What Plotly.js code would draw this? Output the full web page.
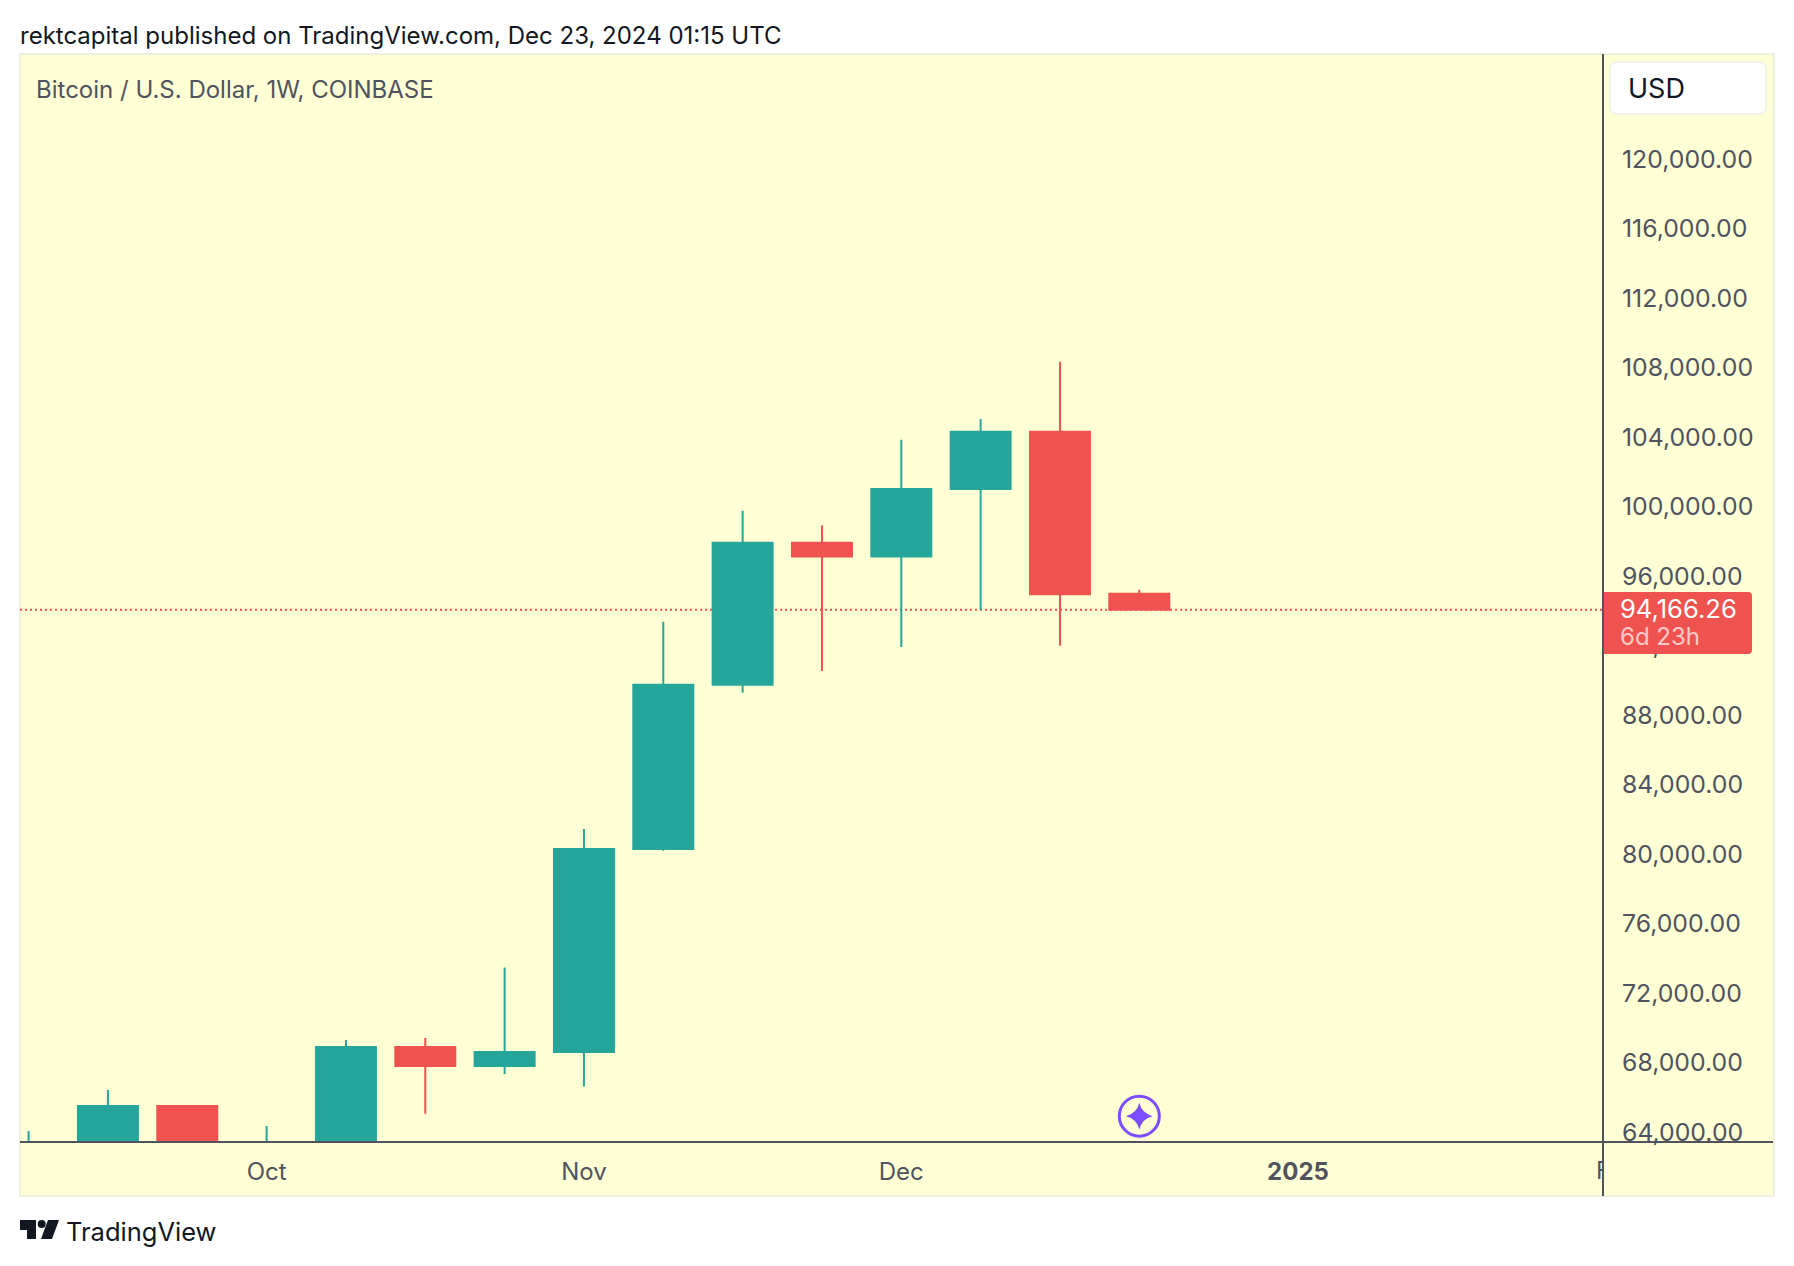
<!DOCTYPE html>
<html>
<head>
<meta charset="utf-8">
<script src="https://cdn.plot.ly/plotly-3.0.1.min.js"></script>
<style>html,body{margin:0;padding:0;background:#fff}#chart{width:1794px;height:1266px}</style>
</head>
<body>
<div id="chart"></div>
<script>
// ---- data ----
const weeks = ['2024-09-16','2024-09-23','2024-09-30','2024-10-07','2024-10-14','2024-10-21','2024-10-28','2024-11-04','2024-11-11','2024-11-18','2024-11-25','2024-12-02','2024-12-09','2024-12-16','2024-12-23'];
const opens = [60000,63350,65611,62100,62870,69007,67914,68720,80403,89860,98032,97242,101130,104425,95100];
const highs = [64172,66532,65650,64460,69410,69525,73583,81560,93485,99878,99021,103960,105150,108445,95330];
const lows  = [57500,62700,59800,58900,62000,65168,67455,66730,80305,89400,90652,92036,94145,92102,94166];
const closes= [63350,65611,62100,62870,69007,67914,68720,80403,89860,98032,97242,101130,104425,95067,94166.26];
const lastPrice = 94166.26;
const xTickVals = ['2024-10-07','2024-11-04','2024-12-02','2025-01-06'];
const xTickText = ['Oct','Nov','Dec','<b>2025</b>'];
const yTickVals = [64000,68000,72000,76000,80000,84000,88000,92000,96000,100000,104000,108000,112000,116000,120000];
const eventX = ['2024-12-23'];
const eventY = [65028];

// ---- layout helpers: page pixels to paper fractions ----
const L=20,R=1603,T=54,B=1142,PR=1774,PB=1196;
const px=x=>(x-L)/(R-L), py=y=>(B-y)/(B-T);
const UP='#26a69a',DOWN='#ef5350',BG='#ffffd6',AX='#50535e',EDGE='#f0f0e0',PURPLE='#7b4dff',INK='#131722';
const FONT='Inter, "Liberation Sans", sans-serif';

function pxPath(cmds){
  return cmds.map(c=>c.length===1?c[0]:c[0]+' '+px(c[1])+' '+py(c[2])).join(' ');
}
function roundBox(x0,y0,x1,y1,rl,rr){
  const X=px,Y=py;
  return `M ${X(x0+rl)} ${Y(y0)} L ${X(x1-rr)} ${Y(y0)} Q ${X(x1)} ${Y(y0)} ${X(x1)} ${Y(y0+rr)} L ${X(x1)} ${Y(y1-rr)} Q ${X(x1)} ${Y(y1)} ${X(x1-rr)} ${Y(y1)} L ${X(x0+rl)} ${Y(y1)} Q ${X(x0)} ${Y(y1)} ${X(x0)} ${Y(y1-rl)} L ${X(x0)} ${Y(y0+rl)} Q ${X(x0)} ${Y(y0)} ${X(x0+rl)} ${Y(y0)} Z`;
}
const paperShape=o=>Object.assign({xref:'paper',yref:'paper'},o);

const shapes=[
  paperShape({type:'rect',layer:'below',x0:px(L),x1:px(PR),y0:py(T),y1:py(PB),fillcolor:BG,line:{color:EDGE,width:2}}),
  {type:'line',layer:'below',xref:'paper',yref:'y',x0:0,x1:1,y0:lastPrice,y1:lastPrice,line:{color:DOWN,width:2,dash:'2px,3px'}},
  paperShape({type:'line',layer:'above',x0:px(L),x1:px(PR-1),y0:py(B),y1:py(B),line:{color:AX,width:2}}),
  paperShape({type:'line',layer:'above',x0:px(R),x1:px(R),y0:py(T),y1:py(PB),line:{color:AX,width:2}}),
  paperShape({type:'line',layer:'above',x0:px(R),x1:px(PR-1),y0:py(B),y1:py(B),line:{color:AX,width:2}}),
  paperShape({type:'path',layer:'above',path:roundBox(1604,592,1752,654,0.01,4),fillcolor:DOWN,line:{width:0}}),
  paperShape({type:'path',layer:'above',path:roundBox(1610,62,1766,114,7,7),fillcolor:'#ffffff',line:{color:'#f0f0e4',width:1.5}}),
  // TradingView logo
  paperShape({type:'path',path:pxPath([['M',20,1220],['L',36,1220],['L',36,1239],['L',27,1239],['L',27,1230],['L',20,1230],['Z']]),fillcolor:INK,line:{width:0}}),
  paperShape({type:'circle',x0:px(37.7),x1:px(45.7),y0:py(1220),y1:py(1228),fillcolor:INK,line:{width:0}}),
  paperShape({type:'path',path:pxPath([['M',48,1220],['L',59,1220],['L',52,1239],['L',41,1239],['Z']]),fillcolor:INK,line:{width:0}})
];

function text(t,x,y,size,color,extra){
  return Object.assign({xref:'paper',yref:'paper',x:px(x),y:py(y),xanchor:'left',yanchor:'middle',showarrow:false,text:t,font:{family:FONT,size:size,color:color},borderpad:0,borderwidth:0},extra||{});
}
const annotations=[
  text('rektcapital published on TradingView.com, Dec 23, 2024 01:15 UTC',20,36,24,INK),
  text('Bitcoin / U.S. Dollar, 1W, COINBASE',36,89,24,AX),
  text('USD',1628,88,27,INK),
  // red cover for the price tag: hides the 92,000 tick label beneath it
  text('\u00a0',1604,592,10,DOWN,{yanchor:'top',width:144,height:62,bgcolor:DOWN}),
  text('94,166.26',1620,608,25.6,'#ffffff'),
  text('6d 23h',1620,636,24,'rgba(255,255,255,0.7)'),
  text('TradingView',66,1231,25.5,INK),
  text('Feb',1596,1170,24,AX,{width:7,align:'left'})
];

const traces=[
  {type:'candlestick',x:weeks,open:opens,high:highs,low:lows,close:closes,whiskerwidth:0,
   increasing:{line:{color:UP,width:2},fillcolor:UP},decreasing:{line:{color:DOWN,width:2},fillcolor:DOWN},hoverinfo:'skip',showlegend:false},
  {type:'scatter',mode:'markers',x:eventX,y:eventY,marker:{symbol:'circle-open',size:40,color:PURPLE,line:{color:PURPLE,width:3}},hoverinfo:'skip',showlegend:false},
  {type:'scatter',mode:'markers',x:eventX,y:eventY,marker:{symbol:'star-diamond',size:19,color:PURPLE,line:{width:0}},hoverinfo:'skip',showlegend:false}
];

const layout={
  width:1794,height:1266,margin:{l:L,r:1794-R,t:T,b:1266-B,pad:0},
  paper_bgcolor:'#ffffff',plot_bgcolor:'rgba(0,0,0,0)',showlegend:false,hovermode:false,dragmode:false,boxgap:0.244,boxgroupgap:0,
  font:{family:FONT,color:AX,size:24},
  xaxis:{type:'date',range:['2024-09-15 05:48','2025-02-01 21:53'],tickmode:'array',tickvals:xTickVals,ticktext:xTickText,
    showgrid:false,zeroline:false,showline:false,ticks:'',ticklabelstandoff:13,tickfont:{family:FONT,size:24,color:AX},rangeslider:{visible:false},fixedrange:true},
  yaxis:{side:'right',range:[63540,126159],tickmode:'array',tickvals:yTickVals,tickformat:',.2f',
    showgrid:false,zeroline:false,showline:false,ticks:'',ticklabelstandoff:18,ticklabelshift:-2,tickfont:{family:FONT,size:24.8,color:AX},fixedrange:true},
  shapes:shapes,annotations:annotations
};
Plotly.newPlot('chart',traces,layout,{displayModeBar:false,staticPlot:true});
</script>
</body>
</html>
